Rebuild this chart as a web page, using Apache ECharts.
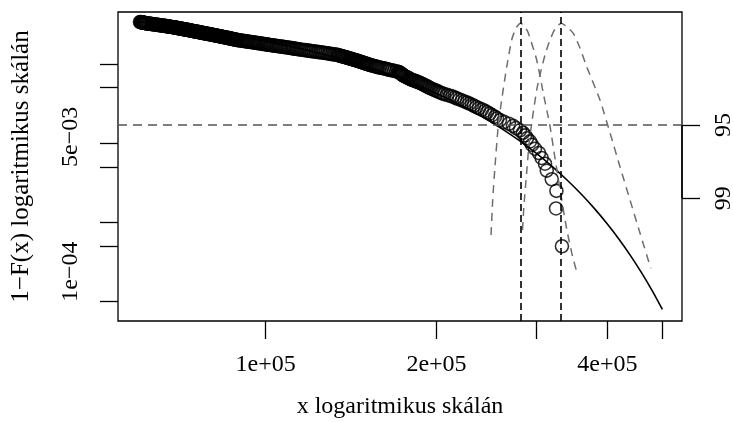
<!DOCTYPE html>
<html>
<head>
<meta charset="utf-8">
<script src="https://cdn.jsdelivr.net/npm/echarts@6/dist/echarts.min.js"></script>
<style>
html, body { margin: 0; padding: 0; background: #fff; }
#c1 { width: 733px; height: 422px; }
</style>
</head>
<body>
<div id="c1"></div>
<script>
// empirical tail points: x and 1-F(x), largest first
var pt_x = [332700, 324800, 325300, 319200, 312800, 310600, 306400, 303100, 298200, 294600,
  292200, 288700, 286400, 284000, 280600, 276100, 272800, 268300, 263000, 258800,
  255600, 253500, 250500, 248000, 245500, 243400, 240500, 237600, 235200, 232800,
  230900, 228600, 226300, 224000, 221800, 219500, 217300, 215600, 213400, 211300,
  208700, 206200, 204500, 202800, 201400, 200000, 198600, 197200, 196000, 194800,
  193800, 192800, 191800, 190900, 189900, 188900, 187900, 187000, 185800, 184700,
  183600, 182500, 181400, 180300, 179500, 178800, 178100, 177400, 176700, 176000,
  175300, 174600, 174200, 173900, 173500, 173200, 172600, 172100, 171600, 171100,
  169700, 168300, 167000, 165600, 164600, 163600, 162600, 161600, 160300, 159000,
  158000, 157100, 156300, 155500, 154500, 153600, 152800, 152100, 151400, 150800,
  150200, 149600, 149000, 148400, 147800, 147200, 146600, 146000, 145400, 144800,
  144300, 143700, 143100, 142500, 141900, 141300, 140800, 140200, 139600, 139100,
  138500, 138000, 137400, 136900, 136300, 135800, 135200, 134700, 134100, 133600,
  132700, 131800, 130900, 130000, 129200, 128300, 127400, 126600, 125700, 124900,
  124000, 123200, 122300, 121300, 120400, 119600, 118800, 118000, 117200, 116500,
  115700, 115000, 114300, 113600, 113000, 112300, 111700, 111100, 110400, 109800,
  109200, 108500, 107900, 107300, 106600, 106000, 105400, 104700, 104100, 103500,
  102900, 102300, 101800, 101200, 100700, 100200, 99800, 99300, 98800, 98200,
  97700, 97200, 96800, 96300, 95800, 95400, 94900, 94400, 93900, 93400,
  93000, 92500, 92100, 91700, 91200, 90800, 90300, 89900, 89400, 89100,
  88800, 88500, 88200, 87900, 87600, 87400, 87100, 86900, 86600, 86400,
  86100, 85800, 85600, 85300, 85000, 84700, 84400, 84200, 83900, 83700,
  83400, 83200, 82900, 82700, 82400, 82200, 81900, 81700, 81400, 81200,
  80900, 80700, 80500, 80200, 80000, 79700, 79500, 79200, 79000, 78700,
  78500, 78300, 78000, 77800, 77600, 77300, 77100, 76900, 76700, 76500,
  76300, 76100, 75900, 75700, 75400, 75200, 75000, 74800, 74600, 74400,
  74200, 74000, 73800, 73600, 73400, 73200, 73000, 72800, 72600, 72400,
  72200, 72000, 71800, 71600, 71400, 71200, 71000, 70800, 70700, 70500,
  70300, 70100, 69900, 69700, 69500, 69300, 69100, 69000, 68800, 68600,
  68400, 68200, 68000, 67800, 67600, 67400, 67200, 67000, 66800, 66600,
  66400, 66200, 65900, 65700, 65500, 65300, 65100, 64900, 64700, 64500,
  64300, 64100, 63900, 63700, 63500, 63300, 63100, 62900, 62700, 62500,
  62300, 62100, 61900, 61700, 61500, 61400, 61300, 61200, 61100, 60900,
  60800, 60700, 60500, 60400, 60300, 60200, 60050];
var pt_s = [0.0005, 0.0015, 0.0025, 0.0035, 0.0045, 0.0055, 0.0065, 0.0075, 0.0085, 0.0095,
  0.0105, 0.0115, 0.0125, 0.0135, 0.0145, 0.0155, 0.0165, 0.0175, 0.0185, 0.0195,
  0.0205, 0.0215, 0.0225, 0.0235, 0.0245, 0.0255, 0.0265, 0.0275, 0.0285, 0.0295,
  0.0305, 0.0315, 0.0325, 0.0335, 0.0345, 0.0355, 0.0365, 0.0375, 0.0385, 0.0395,
  0.0405, 0.0415, 0.0425, 0.0435, 0.0445, 0.0455, 0.0465, 0.0475, 0.0485, 0.0495,
  0.0505, 0.0515, 0.0525, 0.0535, 0.0545, 0.0555, 0.0565, 0.0575, 0.0585, 0.0595,
  0.0605, 0.0615, 0.0625, 0.0635, 0.0645, 0.0655, 0.0665, 0.0675, 0.0685, 0.0695,
  0.0705, 0.0715, 0.0725, 0.0735, 0.0745, 0.0755, 0.0765, 0.0775, 0.0785, 0.0795,
  0.0805, 0.0815, 0.0825, 0.0835, 0.0845, 0.0855, 0.0865, 0.0875, 0.0885, 0.0895,
  0.0905, 0.0915, 0.0925, 0.0935, 0.0945, 0.0955, 0.0965, 0.0975, 0.0985, 0.0995,
  0.1005, 0.1015, 0.1025, 0.1035, 0.1045, 0.1055, 0.1065, 0.1075, 0.1085, 0.1095,
  0.1105, 0.1115, 0.1125, 0.1135, 0.1145, 0.1155, 0.1165, 0.1175, 0.1185, 0.1195,
  0.1205, 0.1215, 0.1225, 0.1235, 0.1245, 0.1255, 0.1265, 0.1275, 0.1285, 0.1295,
  0.1305, 0.1315, 0.1325, 0.1335, 0.1345, 0.1355, 0.1365, 0.1375, 0.1385, 0.1395,
  0.1405, 0.1415, 0.1425, 0.1435, 0.1445, 0.1455, 0.1465, 0.1475, 0.1485, 0.1495,
  0.1505, 0.1515, 0.1525, 0.1535, 0.1545, 0.1555, 0.1565, 0.1575, 0.1585, 0.1595,
  0.1605, 0.1615, 0.1625, 0.1635, 0.1645, 0.1655, 0.1665, 0.1675, 0.1685, 0.1695,
  0.1705, 0.1715, 0.1725, 0.1735, 0.1745, 0.1755, 0.1765, 0.1775, 0.1785, 0.1795,
  0.1805, 0.1815, 0.1825, 0.1835, 0.1845, 0.1855, 0.1865, 0.1875, 0.1885, 0.1895,
  0.1905, 0.1915, 0.1925, 0.1935, 0.1945, 0.1955, 0.1965, 0.1975, 0.1985, 0.1995,
  0.2005, 0.2015, 0.2025, 0.2035, 0.2045, 0.2055, 0.2065, 0.2075, 0.2085, 0.2095,
  0.2105, 0.2115, 0.2125, 0.2135, 0.2145, 0.2155, 0.2165, 0.2175, 0.2185, 0.2195,
  0.2205, 0.2215, 0.2225, 0.2235, 0.2245, 0.2255, 0.2265, 0.2275, 0.2285, 0.2295,
  0.2305, 0.2315, 0.2325, 0.2335, 0.2345, 0.2355, 0.2365, 0.2375, 0.2385, 0.2395,
  0.2405, 0.2415, 0.2425, 0.2435, 0.2445, 0.2455, 0.2465, 0.2475, 0.2485, 0.2495,
  0.2505, 0.2515, 0.2525, 0.2535, 0.2545, 0.2555, 0.2565, 0.2575, 0.2585, 0.2595,
  0.2605, 0.2615, 0.2625, 0.2635, 0.2645, 0.2655, 0.2665, 0.2675, 0.2685, 0.2695,
  0.2705, 0.2715, 0.2725, 0.2735, 0.2745, 0.2755, 0.2765, 0.2775, 0.2785, 0.2795,
  0.2805, 0.2815, 0.2825, 0.2835, 0.2845, 0.2855, 0.2865, 0.2875, 0.2885, 0.2895,
  0.2905, 0.2915, 0.2925, 0.2935, 0.2945, 0.2955, 0.2965, 0.2975, 0.2985, 0.2995,
  0.3005, 0.3015, 0.3025, 0.3035, 0.3045, 0.3055, 0.3065, 0.3075, 0.3085, 0.3095,
  0.3105, 0.3115, 0.3125, 0.3135, 0.3145, 0.3155, 0.3165, 0.3175, 0.3185, 0.3195,
  0.3205, 0.3215, 0.3225, 0.3235, 0.3245, 0.3255, 0.3265, 0.3275, 0.3285, 0.3295,
  0.3305, 0.3315, 0.3325, 0.3335, 0.3345, 0.3355, 0.3365];

// fitted tail
var fit_x = [60000, 70000, 80000, 90000, 100000, 120000, 140000, 160000, 180000, 200000,
  220000, 240000, 260000, 280000, 300000, 320000, 340000, 360000, 380000, 400000,
  420000, 440000, 460000, 480000, 500000];
var fit_s = [0.337, 0.294, 0.256, 0.2226, 0.193, 0.1448, 0.1077, 0.0796, 0.0583, 0.0423,
  0.03046, 0.02172, 0.01534, 0.01072, 0.0074, 0.00505, 0.0034, 0.00226, 0.00148, 0.000954,
  0.000605, 0.000376, 0.000229, 0.000137, 0.00008];

// profile curves (quantile and shortfall)
var prof1_x = [249500, 251200, 253500, 257000, 260500, 265900, 271300, 276100, 281400, 286400,
  290200, 300300, 308400, 316900, 323400, 330700, 338900, 346500, 353200];
var prof1_s = [0.000694, 0.001916, 0.00499, 0.01691, 0.03496, 0.0911, 0.1996, 0.2828, 0.3241, 0.2912,
  0.2446, 0.1117, 0.04283, 0.01643, 0.00649, 0.002417, 0.00085, 0.0004, 0.000239];
var prof2_x = [283500, 285200, 288300, 291000, 294300, 300300, 304300, 310600, 316900, 324100,
  331800, 339600, 348400, 357900, 367800, 388200, 404400, 421000, 438500, 456600, 477100];
var prof2_s = [0.000802, 0.001658, 0.004197, 0.00946, 0.01793, 0.04673, 0.07224, 0.1291, 0.1996, 0.2828,
  0.3241, 0.2912, 0.2424, 0.1582, 0.0919, 0.03496, 0.01341, 0.00504, 0.001916, 0.000735, 0.000264];

var est_x = [281400, 331800];
var ci_levels = [95, 99];
var ci_s = [0.01691, 0.00201];

var x_range = [54920, 541500];
var y_range = [0.0000571, 0.4498];
var x_ticks = [1e5, 2e5, 3e5, 4e5, 5e5];
var x_labels = [1e5, 2e5, 4e5];
var y_ticks = [1e-4, 5e-4, 1e-3, 5e-3, 1e-2, 5e-2, 1e-1];
var y_labels = [1e-4, 5e-3];

var font = "'Liberation Serif', 'DejaVu Serif', serif";
var lg = Math.log10;

function pairs(xs, ys) {
    var out = [];
    for (var i = 0; i < xs.length; i++) out.push([lg(xs[i]), lg(ys[i])]);
    return out;
}
function rsci(v) {
    var e = Math.floor(v + 1e-9);
    var m = Math.round(Math.pow(10, v - e));
    var a = Math.abs(e);
    return m + 'e' + (e < 0 ? '\u2212' : '+') + (a < 10 ? '0' : '') + a;
}
function ci_label(v) {
    var best = 0;
    for (var i = 1; i < ci_s.length; i++) {
        if (Math.abs(lg(ci_s[i]) - v) < Math.abs(lg(ci_s[best]) - v)) best = i;
    }
    return String(ci_levels[best]);
}

var tick_style = { show: true, inside: false, length: 18, lineStyle: { color: '#000', width: 1.3 } };
var label_font = { color: '#000', fontFamily: font, fontSize: 24 };

var chart = echarts.init(document.getElementById('c1'));
chart.setOption({
    animation: false,
    backgroundColor: '#fff',
    grid: { left: 118, top: 12, width: 564, height: 309, show: true, borderColor: '#000', borderWidth: 1.3, outerBoundsMode: 'none' },
    xAxis: {
        type: 'value', min: lg(x_range[0]), max: lg(x_range[1]),
        axisLine: { show: false }, splitLine: { show: false },
        axisTick: Object.assign({ customValues: x_ticks.map(lg) }, tick_style),
        axisLabel: Object.assign({ customValues: x_labels.map(lg), margin: 32, formatter: rsci }, label_font),
        name: 'x logaritmikus sk\u00e1l\u00e1n', nameLocation: 'middle', nameGap: 74,
        nameTextStyle: label_font
    },
    yAxis: [{
        type: 'value', min: lg(y_range[0]), max: lg(y_range[1]),
        axisLine: { show: false }, splitLine: { show: false },
        axisTick: Object.assign({ customValues: y_ticks.map(lg) }, tick_style),
        axisLabel: Object.assign({ customValues: y_labels.map(lg), margin: 35, rotate: 90, align: 'left', formatter: rsci }, label_font),
        name: '1\u2212F(x) logaritmikus sk\u00e1l\u00e1n', nameLocation: 'middle', nameGap: 84,
        nameTextStyle: { color: '#000', fontFamily: font, fontSize: 25 }
    }, {
        type: 'value', position: 'right', min: lg(y_range[0]), max: lg(y_range[1]),
        axisLine: { show: false }, splitLine: { show: false },
        axisTick: Object.assign({ customValues: ci_s.map(lg) }, tick_style),
        axisLabel: Object.assign({ customValues: ci_s.map(lg), margin: 30, rotate: 90, formatter: ci_label }, label_font)
    }],
    series: [{
        type: 'scatter',
        data: pairs(pt_x, pt_s),
        symbol: 'circle', symbolSize: 13,
        itemStyle: { color: 'rgba(0,0,0,0)', borderColor: '#000', borderWidth: 1.6 },
        silent: true, z: 2
    }, {
        type: 'line',
        data: pairs(fit_x, fit_s),
        showSymbol: false, smooth: 0.3,
        lineStyle: { color: '#000', width: 1.6 },
        silent: true, z: 3
    }, {
        type: 'line',
        data: pairs(prof1_x, prof1_s),
        showSymbol: false, smooth: 0.2,
        lineStyle: { color: '#6e6e6e', width: 1.5, type: [8, 6] },
        silent: true, z: 4,
        markLine: {
            silent: true, symbol: 'none', label: { show: false },
            lineStyle: { color: '#000', width: 1.6, type: [7, 4] },
            data: est_x.map(function (v) { return { xAxis: lg(v) }; })
        }
    }, {
        type: 'line',
        data: pairs(prof2_x, prof2_s),
        showSymbol: false, smooth: 0.2,
        lineStyle: { color: '#6e6e6e', width: 1.5, type: [8, 6] },
        silent: true, z: 4,
        markLine: {
            silent: true, symbol: 'none', label: { show: false },
            data: [
                { yAxis: lg(ci_s[0]), lineStyle: { color: '#555', width: 1.5, type: [9, 6] } },
                [{ coord: [lg(x_range[1]), lg(ci_s[0])], lineStyle: { color: '#000', width: 1.5, type: 'solid' } },
                 { coord: [lg(x_range[1]), lg(ci_s[1])] }]
            ]
        }
    }]
});
</script>
</body>
</html>
